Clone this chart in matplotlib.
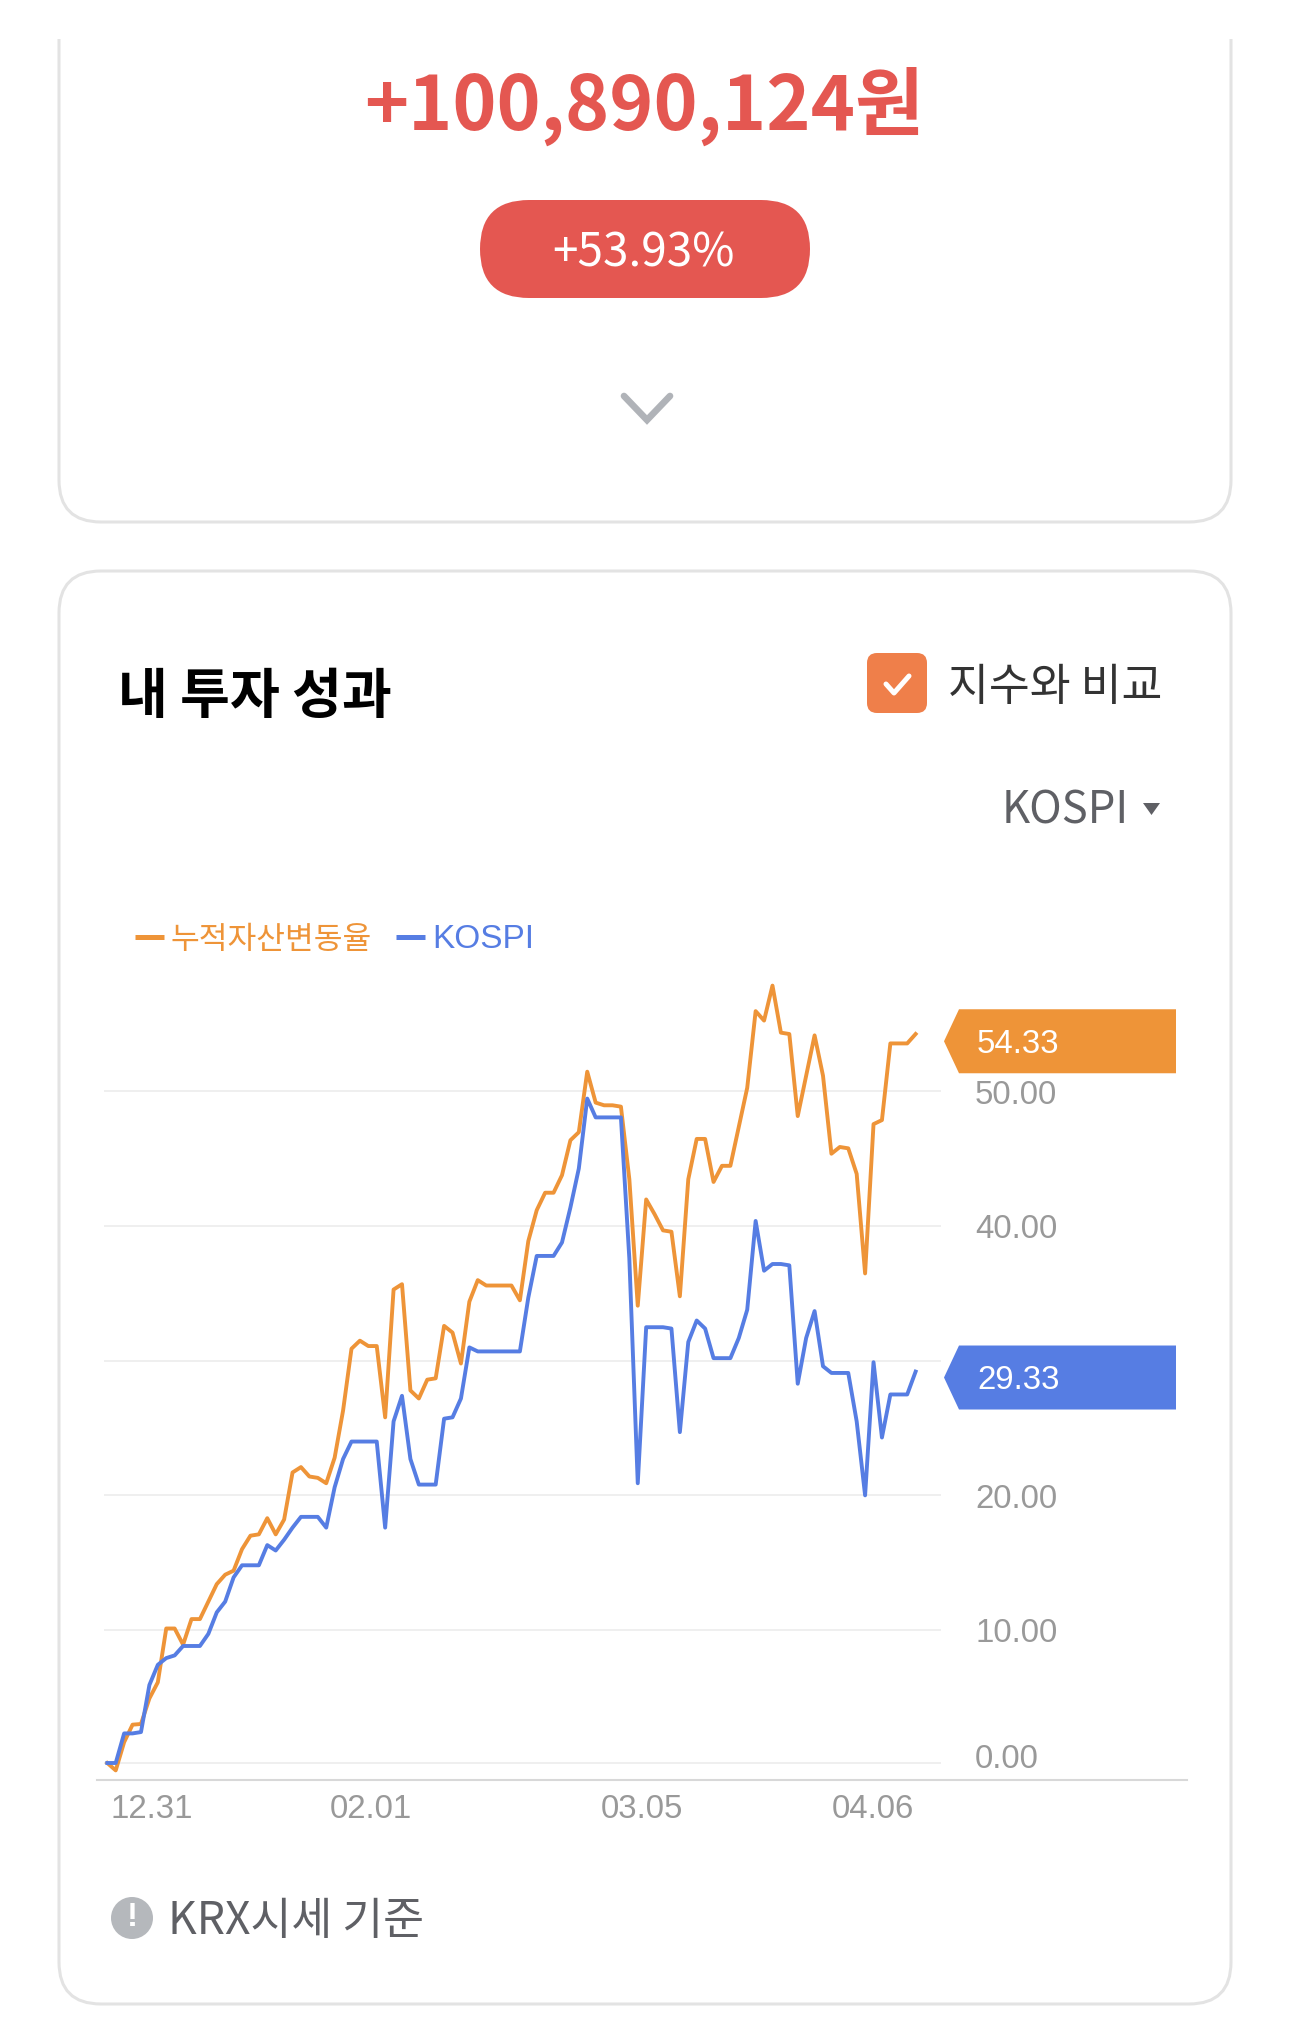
import matplotlib
matplotlib.use("Agg")
import matplotlib.pyplot as plt
from matplotlib.patches import FancyBboxPatch, Polygon, Circle, Rectangle

W, H = 1290, 2037

# values
asset_rate = [0.0, -0.55, 1.55, 2.85, 2.9, 4.8, 6.0, 10.0, 10.0, 8.8, 10.7, 10.7, 12.0, 13.3, 14.0, 14.3,
              15.9, 16.9, 17.0, 18.2, 17.0, 18.1, 21.6, 22.0, 21.3, 21.2, 20.8, 22.7, 26.2, 30.8, 31.4, 31.0,
              31.0, 25.7, 35.2, 35.6, 27.7, 27.1, 28.5, 28.6, 32.5, 32.0, 29.7, 34.3, 35.9, 35.5, 35.5, 35.5,
              35.5, 34.4, 38.8, 41.1, 42.4, 42.4, 43.7, 46.3, 46.9, 51.4, 49.1, 48.9, 48.9, 48.8, 43.4, 34.0,
              41.9, 40.8, 39.6, 39.5, 34.7, 43.4, 46.4, 46.4, 43.2, 44.4, 44.4, 47.3, 50.2, 55.9, 55.2, 57.8,
              54.3, 54.2, 48.1, 51.1, 54.1, 51.1, 45.3, 45.8, 45.7, 43.8, 36.4, 47.5, 47.8, 53.5, 53.5, 53.5, 54.2]
kospi = [0.0, 0.0, 2.2, 2.2, 2.3, 5.8, 7.3, 7.8, 8.0, 8.7, 8.7, 8.7, 9.6, 11.2, 12.0, 13.8,
         14.7, 14.7, 14.7, 16.2, 15.8, 16.6, 17.5, 18.3, 18.3, 18.3, 17.5, 20.5, 22.6, 23.9, 23.9, 23.9,
         23.9, 17.5, 25.4, 27.3, 22.6, 20.7, 20.7, 20.7, 25.6, 25.7, 27.1, 30.9, 30.6, 30.6, 30.6, 30.6,
         30.6, 30.6, 34.6, 37.7, 37.7, 37.7, 38.7, 41.3, 44.2, 49.4, 48.0, 48.0, 48.0, 48.0, 37.5, 20.8,
         32.4, 32.4, 32.4, 32.3, 24.6, 31.3, 32.9, 32.3, 30.1, 30.1, 30.1, 31.6, 33.7, 40.3, 36.6, 37.1,
         37.1, 37.0, 28.2, 31.6, 33.6, 29.5, 29.0, 29.0, 29.0, 25.4, 19.9, 29.8, 24.2, 27.4, 27.4, 27.4, 29.1]
grid_values = [0, 9.9, 19.9, 29.9, 39.9, 50]
y_labels = [0, 10, 20, 40, 50]
x_tick_pos = [5.3, 31.3, 63.5, 90.9]
x_tick_labels = ["12.31", "02.01", "03.05", "04.06"]
tag_values = [54.33, 29.33]

ORANGE = "#EE9438"
BLUE = "#567DE3"
RED = "#E45751"
GRAY_TEXT = "#5F6065"
AXIS_TEXT = "#999999"
KR = ["Noto Sans CJK KR", "DejaVu Sans"]
LATIN = ["Liberation Sans", "Noto Sans CJK KR"]

fig = plt.figure(figsize=(W / 100, H / 100), dpi=100, facecolor="white")

# page layer in pixel coordinates
page = fig.add_axes([0, 0, 1, 1])
page.set_xlim(0, W)
page.set_ylim(H, 0)
page.axis("off")


def card(x0, y0, x1, y1):
    page.add_patch(FancyBboxPatch((x0, y0), x1 - x0, y1 - y0, boxstyle="round,pad=0,rounding_size=42",
                                  fc="white", ec="#E3E3E3", lw=2.2))


card(59, -60, 1231, 522)
page.add_patch(Rectangle((0, -5), W, 44, fc="white", ec="none", zorder=2))
card(59, 571, 1231, 2004)

# upper card
page.text(644, 106, "+100,890,124원", color=RED, fontsize=54, fontweight="bold", family=KR,
          ha="center", va="center")
page.add_patch(FancyBboxPatch((480, 200), 330, 98, boxstyle="round,pad=0,rounding_size=49", fc=RED, ec="none"))
page.text(643, 253, "+53.93%", color="white", fontsize=33, family=KR, ha="center", va="center")
page.plot([624, 647, 670], [396, 420, 396], color="#B0B3B8", lw=4.8, solid_capstyle="round",
          solid_joinstyle="miter")

# header of the lower card
page.text(118, 698, "내 투자 성과", color="black", fontsize=39, fontweight="bold", family=KR,
          ha="left", va="center")
page.add_patch(FancyBboxPatch((867, 653), 60, 60, boxstyle="round,pad=0,rounding_size=10", fc="#EF7F4A", ec="none"))
page.plot([886, 894, 909], [684, 693, 676], color="white", lw=3.6, solid_capstyle="round")
page.text(948, 687, "지수와 비교", color="#333333", fontsize=32, family=KR, ha="left", va="center")
page.text(1002, 810, "KOSPI", color=GRAY_TEXT, fontsize=31.5, family=KR, ha="left", va="center")
page.add_patch(Polygon([[1143, 803], [1160, 803], [1151.5, 815]], fc=GRAY_TEXT, ec="none"))

# legend
page.plot([135, 164], [937, 937], color=ORANGE, lw=3.6, solid_capstyle="butt")
page.text(171, 940, "누적자산변동율", color=ORANGE, fontsize=22.5, family=KR, ha="left", va="center")
page.plot([396, 425], [937, 937], color=BLUE, lw=3.6, solid_capstyle="butt")
page.text(432, 940, "KOSPI", color=BLUE, fontsize=24, family=LATIN, ha="left", va="center")

# chart: axes box is placed so value 0 sits at y=1763 and one unit is 13.45 px
left, right, top, bottom = 97, 1187, 960, 1780
ax = fig.add_axes([left / W, 1 - bottom / H, (right - left) / W, (bottom - top) / H])
ax.patch.set_alpha(0)
ax.set_xlim((left - 107.3) / 8.42, (right - 107.3) / 8.42)
ax.set_ylim((1763 - bottom) / 13.45, (1763 - top) / 13.45)
ax.hlines(grid_values, -0.4, 99, color="#EFEFEF", lw=1.4, zorder=1)
ax.plot(asset_rate, color=ORANGE, lw=2.8, zorder=3, solid_joinstyle="round")
ax.plot(kospi, color=BLUE, lw=2.8, zorder=4, solid_joinstyle="round")
for s in ["top", "left", "right"]:
    ax.spines[s].set_visible(False)
ax.spines["bottom"].set_color("#D8D8D8")
ax.spines["bottom"].set_linewidth(1.5)
ax.set_yticks([])
ax.set_xticks(x_tick_pos)
ax.set_xticklabels(x_tick_labels, fontsize=23.8, color=AXIS_TEXT, family=LATIN)
ax.tick_params(axis="x", length=0, pad=10)

for v in y_labels:
    y = 1763 - v * 13.45 + (-4 if v == 0 else 5)
    page.text(975, y, f"{v:.2f}", color=AXIS_TEXT, fontsize=23.8, family=LATIN, ha="left", va="center")

# value tags at the right edge
for v, c in zip(tag_values, [ORANGE, BLUE]):
    yc = 1763 - v * 13.45 + 9
    page.add_patch(Polygon([[944, yc], [959, yc - 32], [1176, yc - 32], [1176, yc + 32], [959, yc + 32]],
                           fc=c, ec="none"))
    page.text(977, yc + 3, f"{v:.2f}", color="white", fontsize=23.8, family=LATIN, ha="left", va="center")

# footer note
page.add_patch(Circle((132, 1918), 21, fc="#B5B8BC", ec="none"))
page.text(132, 1918, "!", color="white", fontsize=24, fontweight="bold", family=LATIN, ha="center", va="center")
page.text(168, 1921, "KRX시세 기준", color=GRAY_TEXT, fontsize=32, family=KR, ha="left", va="center")

fig.savefig("out.png", dpi=100, facecolor="white")
